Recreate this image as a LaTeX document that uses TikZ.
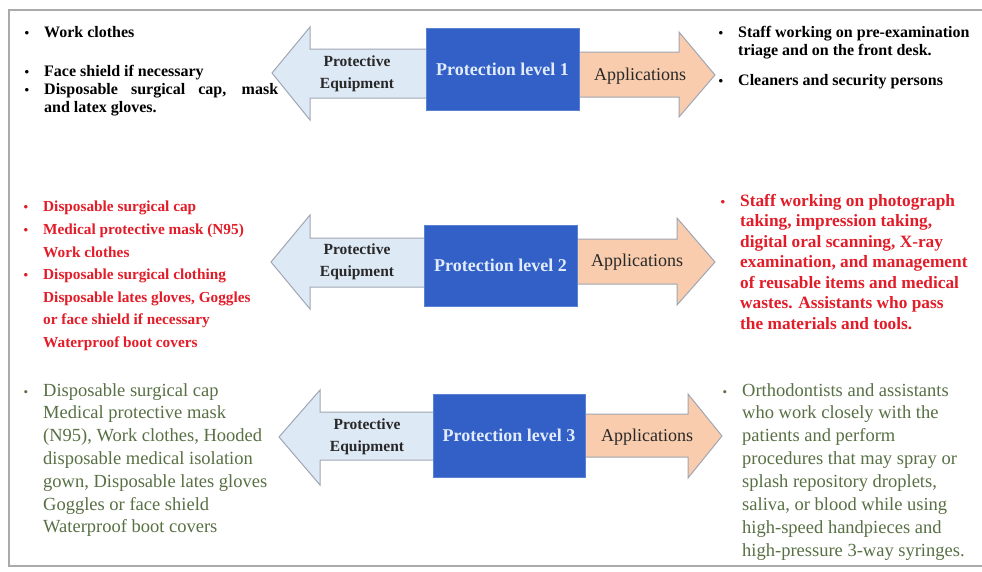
\documentclass[tikz,border=0pt]{standalone}
\usepackage{fontspec}
\setmainfont{Liberation Serif}
\usetikzlibrary{positioning}

\definecolor{lvblue}{RGB}{50,96,198}
\definecolor{lvedge}{RGB}{90,130,210}
\definecolor{lvtext}{RGB}{225,235,252}
\definecolor{eqfill}{RGB}{222,233,246}
\definecolor{appfill}{RGB}{248,204,173}
\definecolor{arrowedge}{RGB}{160,166,180}
\definecolor{darktxt}{RGB}{40,40,40}
\definecolor{redtxt}{RGB}{226,28,40}
\definecolor{greentxt}{RGB}{88,112,68}
\definecolor{framegray}{RGB}{170,170,170}

% small bullet hung in the left margin of a line
\newcommand{\bul}{\llap{{\fontsize{13}{13}\selectfont\textbullet}\hspace{15pt}}}

\begin{document}
\begin{tikzpicture}[x=1pt, y=-1pt,
    levelbox/.style={fill=lvblue, draw=lvedge, line width=0.8pt, text=lvtext,
      font=\fontsize{18}{20}\selectfont\bfseries, minimum width=153pt,
      minimum height=82pt, inner sep=0pt},
    eqarrow/.style={fill=eqfill, draw=arrowedge, line width=1pt},
    apparrow/.style={fill=appfill, draw=arrowedge, line width=1pt},
    eqlabel/.style={font=\fontsize{15.5}{22}\selectfont\bfseries, text=darktxt,
      align=center, inner sep=0pt},
    applabel/.style={font=\fontsize{18}{20}\selectfont, text=darktxt, inner sep=0pt},
    listtxt/.style={anchor=north west, inner sep=0pt, align=left}]
  \useasboundingbox (0,0) rectangle (982,571);
  \fill[white] (0,0) rectangle (982,571);
  \draw[framegray, line width=1.4pt] (982,10) -- (9,10) -- (9,566) -- (982,566);

  % level 1
  \draw[eqarrow] (440,49) -- (310,49) -- (310,27) -- (272,73) -- (310,120)
    -- (310,98) -- (440,98) -- cycle;
  \draw[apparrow] (565,52) -- (679,52) -- (679,32) -- (715,75) -- (679,117)
    -- (679,97) -- (565,97) -- cycle;
  \node[levelbox] (lv1) at (502.5,69) {Protection level 1};
  \node[eqlabel] (eq1) at (357,74) {Protective\\Equipment};
  \node[applabel] (app1) at (640,76) {Applications};

  % level 2
  \draw[eqarrow] (440,238) -- (310,238) -- (310,215) -- (271,262) -- (310,309)
    -- (310,287) -- (440,287) -- cycle;
  \draw[apparrow] (565,239) -- (677,239) -- (677,218) -- (715,262) -- (677,305)
    -- (677,284) -- (565,284) -- cycle;
  \node[levelbox, minimum height=81pt] (lv2) at (500.5,265.5) {Protection level 2};
  \node[eqlabel] (eq2) at (357,262) {Protective\\Equipment};
  \node[applabel] (app2) at (637,262) {Applications};

  % level 3
  \draw[eqarrow] (450,412) -- (320,412) -- (320,390) -- (279,437) -- (320,485)
    -- (320,460) -- (450,460) -- cycle;
  \draw[apparrow] (570,414) -- (688,414) -- (688,394) -- (722,436) -- (688,478)
    -- (688,457) -- (570,457) -- cycle;
  \node[levelbox, minimum width=152pt, minimum height=83pt] (lv3) at (509,435.5) {Protection level 3};
  \node[eqlabel] (eq3) at (367,437) {Protective\\Equipment};
  \node[applabel] (app3) at (647,437) {Applications};

  % equipment lists
  \node[listtxt, font=\fontsize{16}{18}\selectfont\bfseries, text=black] (equip1) at (44,26)
    {\bul Work clothes\\[21pt]
     \bul Face shield if necessary\\
     \bul \makebox[234pt][s]{Disposable surgical cap, mask}\\
     and latex gloves.};
  \node[listtxt, font=\fontsize{15.3}{22.6}\selectfont\bfseries, text=redtxt] (equip2) at (43,201)
    {\bul Disposable surgical cap\\
     \bul Medical protective mask (N95)\\
     Work clothes\\
     \bul Disposable surgical clothing\\
     Disposable lates gloves, Goggles\\
     or face shield if necessary\\
     Waterproof boot covers};
  \node[listtxt, font=\fontsize{18.5}{22.8}\selectfont, text=greentxt] (equip3) at (43,383)
    {\bul Disposable surgical cap\\
     Medical protective mask\\
     (N95), Work clothes, Hooded\\
     disposable medical isolation\\
     gown, Disposable lates gloves\\
     Goggles or face shield\\
     Waterproof boot covers};

  % application lists
  \node[listtxt, font=\fontsize{16}{18}\selectfont\bfseries, text=black] (use1) at (738,26)
    {\bul Staff working on pre-examination\\
     triage and on the front desk.\\[12pt]
     \bul Cleaners and security persons};
  \node[listtxt, font=\fontsize{17.3}{20.5}\selectfont\bfseries, text=redtxt] (use2) at (740,194)
    {\bul Staff working on photograph\\
     taking, impression taking,\\
     digital oral scanning, X-ray\\
     examination, and management\\
     of reusable items and medical\\
     wastes. Assistants who pass\\
     the materials and tools.};
  \node[listtxt, font=\fontsize{18.5}{22.9}\selectfont, text=greentxt] (use3) at (742,383)
    {\bul Orthodontists and assistants\\
     who work closely with the\\
     patients and perform\\
     procedures that may spray or\\
     splash repository droplets,\\
     saliva, or blood while using\\
     high-speed handpieces and\\
     high-pressure 3-way syringes.};
\end{tikzpicture}
\end{document}
